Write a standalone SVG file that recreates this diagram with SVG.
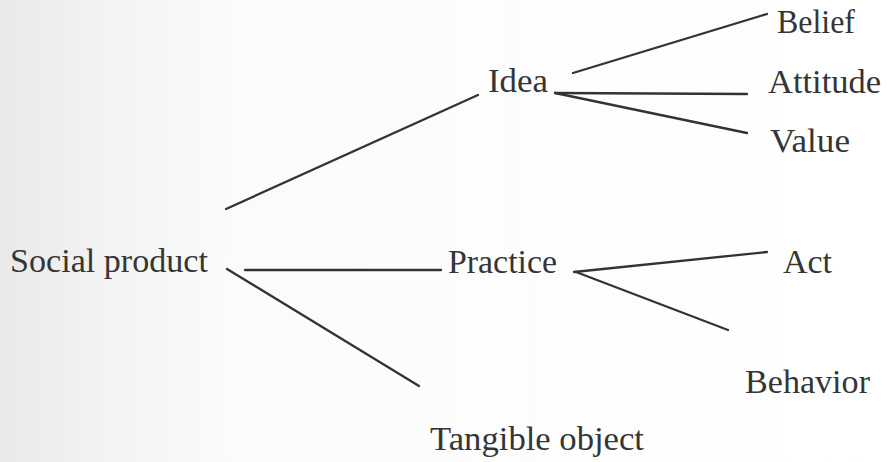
<svg xmlns="http://www.w3.org/2000/svg" width="887" height="462" viewBox="0 0 887 462">
  <defs>
    <linearGradient id="scan" x1="0" y1="0" x2="1" y2="0">
      <stop offset="0" stop-color="#e9e9e9"/>
      <stop offset="0.12" stop-color="#f3f3f3"/>
      <stop offset="0.26" stop-color="#fbfbfb"/>
      <stop offset="1" stop-color="#ffffff"/>
    </linearGradient>
  </defs>
  <style>
    .lbl { font-family: "Liberation Serif", "DejaVu Serif", serif; font-size: 33.5px; fill: #353535; }
    .edge { stroke: #333333; stroke-width: 2.3; stroke-linecap: round; fill: none; }
  </style>
  <rect x="0" y="0" width="887" height="462" fill="url(#scan)"/>

  <g id="connectors">
    <line class="edge" x1="226" y1="209" x2="478" y2="95"/>
    <line class="edge" x1="245" y1="270" x2="441" y2="270"/>
    <line class="edge" x1="227" y1="269" x2="419" y2="386"/>
    <line class="edge" x1="573" y1="73" x2="767" y2="14"/>
    <line class="edge" x1="555" y1="93" x2="747" y2="94"/>
    <line class="edge" x1="555" y1="93" x2="747" y2="133"/>
    <line class="edge" x1="574" y1="272" x2="767" y2="252"/>
    <line class="edge" x1="576" y1="272" x2="728" y2="330"/>
  </g>

  <g id="social-product"><text class="lbl" x="10" y="272" textLength="198" lengthAdjust="spacingAndGlyphs">Social product</text></g>
  <g id="idea"><text class="lbl" x="488" y="92" textLength="60" lengthAdjust="spacingAndGlyphs">Idea</text></g>
  <g id="practice"><text class="lbl" x="448" y="273" textLength="109" lengthAdjust="spacingAndGlyphs">Practice</text></g>
  <g id="tangible-object"><text class="lbl" x="430" y="450" textLength="214" lengthAdjust="spacingAndGlyphs">Tangible object</text></g>
  <g id="belief"><text class="lbl" x="777" y="33" textLength="78" lengthAdjust="spacingAndGlyphs">Belief</text></g>
  <g id="attitude"><text class="lbl" x="768" y="93" textLength="113" lengthAdjust="spacingAndGlyphs">Attitude</text></g>
  <g id="value"><text class="lbl" x="770" y="152" textLength="80" lengthAdjust="spacingAndGlyphs">Value</text></g>
  <g id="act"><text class="lbl" x="783" y="273" textLength="49" lengthAdjust="spacingAndGlyphs">Act</text></g>
  <g id="behavior"><text class="lbl" x="745" y="393" textLength="125" lengthAdjust="spacingAndGlyphs">Behavior</text></g>
</svg>
